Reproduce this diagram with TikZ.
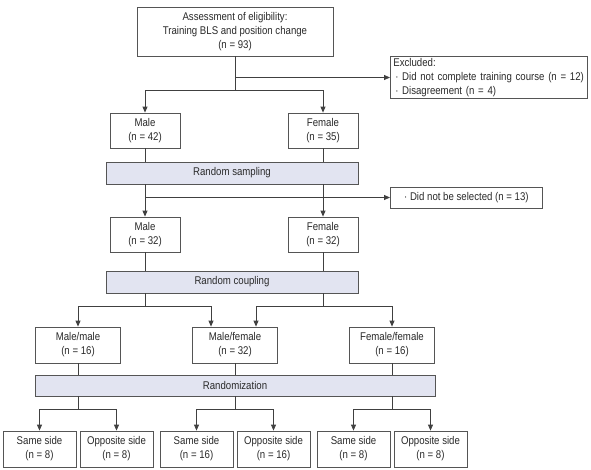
\documentclass[tikz,border=0pt]{standalone}
\usepackage{fontspec}
\setmainfont{Liberation Sans}[FakeStretch=0.86]
\usetikzlibrary{arrows.meta,calc}
\definecolor{linec}{HTML}{404040}
\definecolor{boxc}{HTML}{555555}
\definecolor{barfill}{HTML}{E2E4F1}
\definecolor{txt}{HTML}{2A2A2A}
\begin{document}
\begin{tikzpicture}[x=1pt,y=-1pt,
  every node/.style={font=\fontsize{11.2}{14}\selectfont, text=txt, inner sep=0pt},
  box/.style={draw=boxc, line width=0.8pt, fill=white, align=center, minimum height=35pt},
  bar/.style={draw=boxc, line width=0.8pt, fill=barfill, align=center, minimum height=22pt},
  line/.style={draw=linec, line width=0.8pt},
  arr/.style={line, -{Triangle[length=6pt,width=5pt]}}]
\useasboundingbox (0,0) rectangle (591,469);
% nodes
\node[box, minimum width=196pt, minimum height=49pt] (top) at (235,31.5) {Assessment of eligibility:\\Training BLS and position change\\(n = 93)};
\node[box, minimum width=197pt, minimum height=42pt, align=left, anchor=west, text width=191pt] (excl) at (390,77.5) {Excluded:\\\,· Did not complete training course (n = 12)\\\,· Disagreement (n = 4)};
\node[box, minimum width=70pt] (male1) at (145,130.5) {Male\\(n = 42)};
\node[box, minimum width=70pt] (female1) at (323,130.5) {Female\\(n = 35)};
\node[bar, minimum width=252pt] (bar1) at (232,173) {Random sampling};
\node[box, minimum width=152pt, minimum height=21pt, anchor=west] (sel) at (390,197.5) {· Did not be selected (n = 13)};
\node[box, minimum width=70pt] (male2) at (145,234.5) {Male\\(n = 32)};
\node[box, minimum width=70pt] (female2) at (323,234.5) {Female\\(n = 32)};
\node[bar, minimum width=252pt] (bar2) at (232,282) {Random coupling};
\node[box, minimum width=85pt, minimum height=36pt] (mm) at (78,345) {Male/male\\(n = 16)};
\node[box, minimum width=85pt, minimum height=36pt] (mf) at (235,345) {Male/female\\(n = 32)};
\node[box, minimum width=85pt, minimum height=36pt] (ff) at (392,345) {Female/female\\(n = 16)};
\node[bar, minimum width=400pt, minimum height=21pt] (bar3) at (235,385.5) {Randomization};
\foreach \n/\x/\t/\v in {b1/39.5/Same side/8, b2/116.5/Opposite side/8, b3/196.5/Same side/16, b4/273.5/Opposite side/16, b5/353.5/Same side/8, b6/430.5/Opposite side/8}
  \node[box, minimum width=73pt, minimum height=36pt] (\n) at (\x,449) {\t\\(n = \v)};
% connectors
\coordinate (j1) at (235,90);
\draw[line] (top.south) -- (j1);
\draw[arr] (top.south |- excl.west) -- (excl.west);
\draw[arr] (j1) -| (male1.north);
\draw[arr] (j1) -| (female1.north);
\draw[line] (male1.south) -- (male1.south |- bar1.north);
\draw[line] (female1.south) -- (female1.south |- bar1.north);
\draw[arr] (male1.south |- bar1.south) -- (male2.north);
\draw[arr] (female1.south |- bar1.south) -- (female2.north);
\draw[arr] (male2.north |- sel.west) -- (sel.west);
\draw[line] (male2.south) -- (male2.south |- bar2.north);
\draw[line] (female2.south) -- (female2.south |- bar2.north);
\coordinate (s1) at (145,306);
\coordinate (s2) at (323,306);
\draw[line] (male2.south |- bar2.south) -- (s1);
\draw[line] (female2.south |- bar2.south) -- (s2);
\draw[arr] (s1) -| (mm.north);
\draw[arr] (s1) -| ([xshift=-24pt]mf.north);
\draw[arr] (s2) -| ([xshift=21pt]mf.north);
\draw[arr] (s2) -| (ff.north);
\foreach \m in {mm,mf,ff} \draw[line] (\m.south) -- (\m.south |- bar3.north);
\coordinate (r1) at (78,409);
\coordinate (r2) at (235,409);
\coordinate (r3) at (392,409);
\draw[line] (mm.south |- bar3.south) -- (r1);
\draw[line] (mf.south |- bar3.south) -- (r2);
\draw[line] (ff.south |- bar3.south) -- (r3);
\draw[arr] (r1) -| (b1.north);
\draw[arr] (r1) -| (b2.north);
\draw[arr] (r2) -| (b3.north);
\draw[arr] (r2) -| (b4.north);
\draw[arr] (r3) -| (b5.north);
\draw[arr] (r3) -| (b6.north);
\end{tikzpicture}
\end{document}
